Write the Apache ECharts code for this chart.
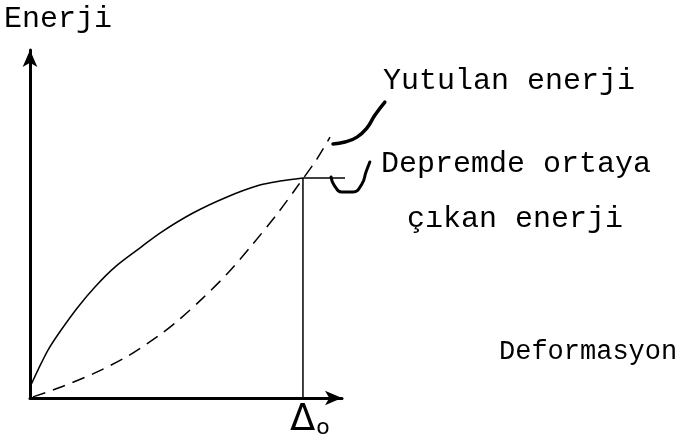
<!DOCTYPE html>
<html>
<head>
<meta charset="utf-8">
<script src="https://cdn.jsdelivr.net/npm/echarts@6/dist/echarts.min.js"></script>
<style>
  html, body { margin: 0; padding: 0; background: #fff; }
  #chart { width: 681px; height: 442px; }
</style>
</head>
<body>
<div id="chart"></div>
<script>
// deformation is in units of Δo, energy in units of the energy at Δo
const releasedCurve = [
  [0, 0.05], [0.029, 0.127], [0.066, 0.218], [0.114, 0.309], [0.176, 0.414], [0.238, 0.505],
  [0.311, 0.595], [0.407, 0.686], [0.476, 0.75], [0.597, 0.841], [0.722, 0.914],
  [0.842, 0.968], [0.916, 0.986], [1.0, 1.0]
];
const plateau = [[1.0, 1.0], [1.154, 1.0]];
const absorbedCurve = [
  [0.011, 0.005], [0.114, 0.05], [0.238, 0.114], [0.359, 0.191], [0.48, 0.291], [0.549, 0.359],
  [0.634, 0.455], [0.725, 0.568], [0.813, 0.695], [0.905, 0.836], [0.978, 0.959],
  [1.051, 1.086], [1.099, 1.186]
];
const deltaLine = [[1.0, 0], [1.0, 1.0]];
const braceUpper = [
  [1.300, 1.345], [1.264, 1.286], [1.234, 1.227], [1.198, 1.186], [1.154, 1.164], [1.11, 1.155]
];
const braceLower = [
  [1.245, 1.073], [1.231, 1.027], [1.216, 0.973], [1.183, 0.936], [1.143, 0.936], [1.114, 0.968], [1.103, 1.005]
];
const labels = {
  yName: 'Enerji',
  xName: 'Deformasyon',
  absorbed: 'Yutulan enerji',
  released1: 'Depremde ortaya',
  released2: 'çıkan enerji'
};

const mono = '"Liberation Mono", "DejaVu Sans Mono", monospace';
const chart = echarts.init(document.getElementById('chart'));

function lineSeries(data, opts) {
  return Object.assign({
    type: 'line',
    data: data,
    xAxisIndex: 1,
    yAxisIndex: 1,
    symbol: 'none',
    clip: false,
    silent: true,
    lineStyle: { color: '#000', width: 1.5, join: 'round' }
  }, opts || {});
}

const hidden = {
  axisLine: { show: false }, axisTick: { show: false }, axisLabel: { show: false }, splitLine: { show: false }
};
const arrowAxis = {
  axisLine: { show: true, symbol: ['none', 'arrow'], symbolSize: [11, 17], lineStyle: { color: '#000', width: 3 } },
  axisTick: { show: false }, axisLabel: { show: false }, splitLine: { show: false }
};

const option = {
  backgroundColor: '#fff',
  animation: false,
  grid: [
    { left: 30, right: 339, top: 50, bottom: 44 },
    { left: 30, right: 0, top: 50, bottom: 44 }
  ],
  xAxis: [
    Object.assign({ type: 'value', min: 0, max: 1.143, gridIndex: 0 }, arrowAxis),
    Object.assign({ type: 'value', min: 0, max: 2.385, gridIndex: 1 }, hidden)
  ],
  yAxis: [
    Object.assign({ type: 'value', min: 0, max: 1.582, gridIndex: 0 }, arrowAxis),
    Object.assign({ type: 'value', min: 0, max: 1.582, gridIndex: 1 }, hidden)
  ],
  series: [
    lineSeries(releasedCurve, { smooth: 0.3 }),
    lineSeries(plateau),
    lineSeries(absorbedCurve, { smooth: 0.3, lineStyle: { color: '#000', width: 1.5, join: 'round', type: [13, 8] } }),
    lineSeries(deltaLine),
    lineSeries(braceUpper, { smooth: true, lineStyle: { color: '#000', width: 3.5, cap: 'round' } }),
    lineSeries(braceLower, { smooth: true, lineStyle: { color: '#000', width: 3, cap: 'round' } })
  ],
  graphic: [
    { type: 'text', left: 4, top: 4, style: { text: labels.yName, font: '30px ' + mono, fill: '#000' } },
    { type: 'text', left: 383, top: 66, style: { text: labels.absorbed, font: '30px ' + mono, fill: '#000' } },
    { type: 'text', left: 381, top: 149, style: { text: labels.released1, font: '30px ' + mono, fill: '#000' } },
    { type: 'text', left: 407, top: 204, style: { text: labels.released2, font: '30px ' + mono, fill: '#000' } },
    { type: 'text', left: 499, top: 338, style: { text: labels.xName, font: '27px ' + mono, fill: '#000' } },
    { type: 'text', left: 290, top: 402, style: {
        text: '{d|Δ}{o|o}',
        rich: {
          d: { fontSize: 37, fontFamily: '"DejaVu Sans", sans-serif', fill: '#000', verticalAlign: 'bottom' },
          o: { fontSize: 22, fontFamily: '"DejaVu Sans", sans-serif', fill: '#000', verticalAlign: 'bottom', padding: [0, 0, 0, 1] }
        }
    } }
  ]
};
chart.setOption(option);
</script>
</body>
</html>
